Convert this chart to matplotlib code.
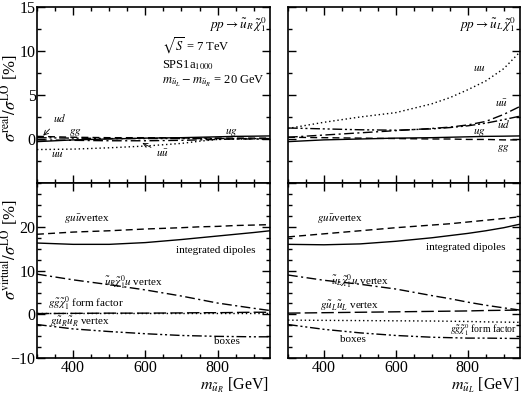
import numpy as np
import matplotlib
matplotlib.use('Agg')
import matplotlib.pyplot as plt
from matplotlib.ticker import MultipleLocator

plt.rcParams['font.family'] = ['Liberation Serif', 'DejaVu Serif']
plt.rcParams['mathtext.fontset'] = 'stix'

# masses [GeV]
m = [300, 400, 500, 600, 700, 750, 800, 850, 900, 945]

# real corrections, u_R (left)
uR_uu = [-1.2, -1.15, -1.0, -0.8, -0.5, -0.25, -0.05, 0.0, 0.0, 0.0]
uR_gg = [0.3, 0.2, 0.15, 0.15, 0.12, 0.12, 0.1, 0.1, 0.1, 0.1]
uR_ug = [-0.3, -0.1, 0.0, 0.1, 0.15, 0.2, 0.25, 0.3, 0.32, 0.35]
uR_ud = [0.15, 0.1, 0.05, 0.05, 0.05, 0.05, 0.05, 0.05, 0.05, 0.05]
uR_uub = [-0.1, -0.15, -0.2, -0.2, -0.15, -0.1, -0.05, 0.0, 0.0, 0.0]

# real corrections, u_L (right)
uL_uu = [1.2, 1.9, 2.5, 3.0, 4.0, 4.7, 5.6, 6.6, 8.0, 9.9]
uL_uub = [0.2, 0.45, 0.7, 0.95, 1.2, 1.35, 1.6, 2.0, 2.8, 3.7]
uL_ud = [1.25, 1.15, 1.05, 1.0, 1.15, 1.3, 1.5, 1.8, 2.2, 2.6]
uL_ug = [-0.3, -0.1, 0.0, 0.1, 0.15, 0.2, 0.25, 0.3, 0.32, 0.35]
uL_gg = [0.2, 0.15, 0.1, 0.05, 0.0, 0.0, -0.05, -0.05, -0.1, -0.1]

# virtual corrections, u_R (left)
vR_guu = [18.3, 18.8, 19.1, 19.5, 19.8, 20.0, 20.1, 20.3, 20.4, 20.5]
vR_dip = [16.3, 16.0, 16.0, 16.4, 17.1, 17.5, 17.9, 18.3, 18.7, 19.1]
vR_sqchi = [9.2, 7.9, 6.8, 5.6, 4.2, 3.4, 2.6, 2.0, 1.4, 0.9]
vR_ff = [0.4, 0.4, 0.4, 0.4, 0.4, 0.4, 0.4, 0.4, 0.4, 0.4]
vR_gsq = [0.2, 0.25, 0.3, 0.3, 0.35, 0.4, 0.4, 0.45, 0.5, 0.5]
vR_box = [-2.3, -3.3, -3.9, -4.4, -4.8, -4.9, -5.0, -5.05, -5.1, -5.1]

# virtual corrections, u_L (right)
vL_guu = [17.7, 18.4, 19.1, 19.8, 20.4, 20.7, 21.1, 21.5, 21.9, 22.3]
vL_dip = [16.0, 15.9, 16.1, 16.7, 17.5, 18.0, 18.5, 19.1, 19.8, 20.6]
vL_sqchi = [9.0, 7.8, 6.9, 5.8, 4.3, 3.6, 2.8, 2.1, 1.5, 1.0]
vL_gsq = [0.3, 0.4, 0.5, 0.6, 0.7, 0.75, 0.8, 0.9, 0.95, 1.0]
vL_ff = [-1.3, -1.35, -1.4, -1.45, -1.5, -1.55, -1.6, -1.7, -1.75, -1.8]
vL_box = [-2.3, -3.4, -4.2, -4.8, -5.2, -5.3, -5.4, -5.4, -5.45, -5.5]

ls_dash = (0, (5, 3))
ls_dot = (0, (1, 2))
ls_dd = (0, (7, 2.5, 1.5, 2.5))
ls_ddd = (0, (7, 2, 1.5, 2, 1.5, 2))
ls_long = (0, (9, 3))
lw = 1.0

fig = plt.figure(figsize=(5.23, 3.95), dpi=100)
ax_tl = fig.add_axes([0.0707, 0.5367, 0.4455, 0.4456])
ax_tr = fig.add_axes([0.5507, 0.5367, 0.4436, 0.4456])
ax_bl = fig.add_axes([0.0707, 0.093, 0.4455, 0.4437])
ax_br = fig.add_axes([0.5507, 0.093, 0.4436, 0.4437])

for ax in [ax_tl, ax_tr, ax_bl, ax_br]:
    ax.set_xlim(300, 945)
    ax.xaxis.set_major_locator(MultipleLocator(200))
    ax.xaxis.set_minor_locator(MultipleLocator(50))
    ax.tick_params(which='both', direction='in', top=True, right=True, labelsize=11.5)
    ax.tick_params(which='major', length=6, width=1, pad=1)
    ax.tick_params(which='minor', length=3, width=1)
    for s in ax.spines.values():
        s.set_linewidth(1.2)

for ax in [ax_tl, ax_tr]:
    ax.set_ylim(-5, 15)
    ax.yaxis.set_major_locator(MultipleLocator(5))
    ax.yaxis.set_minor_locator(MultipleLocator(2.5))
    ax.set_xticklabels([])
for ax in [ax_bl, ax_br]:
    ax.set_ylim(-10, 30)
    ax.yaxis.set_major_locator(MultipleLocator(10))
    ax.yaxis.set_minor_locator(MultipleLocator(2.5))
ax_tl.set_yticks([0, 5, 10, 15])
ax_bl.set_yticks([-10, 0, 10, 20])
ax_tr.set_yticklabels([])
ax_br.set_yticklabels([])

# top left
ax_tl.plot(m, uR_ug, color='black', lw=lw)
ax_tl.plot(m, uR_gg, color='black', lw=lw, ls=ls_dash)
ax_tl.plot(m, uR_ud, color='black', lw=lw, ls=ls_ddd)
ax_tl.plot(m, uR_uub, color='black', lw=lw, ls=ls_dd)
ax_tl.plot(m, uR_uu, color='black', lw=lw, ls=ls_dot)
ax_tl.text(935, 12.6, r'$pp\rightarrow\tilde{u}_R\,\tilde{\chi}_1^0$', ha='right', fontsize=9.5)
ax_tl.text(645, 10.0, r'$\sqrt{S}$ = 7 TeV', fontsize=9)
ax_tl.text(645, 8.0, r'SPS1a$_{1000}$', fontsize=9)
ax_tl.text(645, 6.2, r'$m_{\tilde{u}_L} - m_{\tilde{u}_R}$ = 20 GeV', fontsize=9)
ax_tl.annotate(r'$ud$', xy=(312, 0.15), xytext=(345, 1.9), fontsize=8,
               arrowprops=dict(arrowstyle='->', lw=0.6))
ax_tl.text(390, 0.6, r'$gg$', fontsize=8)
ax_tl.text(820, 0.6, r'$ug$', fontsize=8)
ax_tl.text(340, -2.0, r'$uu$', fontsize=8)
ax_tl.annotate(r'$u\bar{u}$', xy=(585, -0.3), xytext=(630, -2.1), fontsize=8,
               arrowprops=dict(arrowstyle='->', lw=0.6))

# top right
ax_tr.plot(m, uL_ug, color='black', lw=lw)
ax_tr.plot(m, uL_gg, color='black', lw=lw, ls=ls_dash)
ax_tr.plot(m, uL_ud, color='black', lw=lw, ls=ls_ddd)
ax_tr.plot(m, uL_uub, color='black', lw=lw, ls=ls_dd)
ax_tr.plot(m, uL_uu, color='black', lw=lw, ls=ls_dot)
ax_tr.text(935, 12.6, r'$pp\rightarrow\tilde{u}_L\,\tilde{\chi}_1^0$', ha='right', fontsize=9.5)
ax_tr.text(815, 7.7, r'$uu$', fontsize=8)
ax_tr.text(875, 3.6, r'$u\bar{u}$', fontsize=8)
ax_tr.text(880, 1.3, r'$ud$', fontsize=8)
ax_tr.text(815, 0.6, r'$ug$', fontsize=8)
ax_tr.text(880, -1.3, r'$gg$', fontsize=8)

# bottom left
ax_bl.plot(m, vR_guu, color='black', lw=lw, ls=ls_dash)
ax_bl.plot(m, vR_dip, color='black', lw=lw)
ax_bl.plot(m, vR_sqchi, color='black', lw=lw, ls=ls_dd)
ax_bl.plot(m, vR_ff, color='black', lw=lw, ls=ls_dot)
ax_bl.plot(m, vR_gsq, color='black', lw=lw, ls=ls_long)
ax_bl.plot(m, vR_box, color='black', lw=lw, ls=ls_ddd)
ax_bl.text(375, 21.2, r'$gu\bar{u}$vertex', fontsize=8)
ax_bl.text(685, 14.0, 'integrated dipoles', fontsize=8)
ax_bl.text(485, 6.4, r'$\tilde{u}_R\tilde{\chi}_1^0u$ vertex', fontsize=8)
ax_bl.text(330, 1.7, r'$g\tilde{g}\tilde{\chi}_1^0$ form factor', fontsize=8)
ax_bl.text(335, -2.3, r'$g\tilde{u}_R\tilde{u}_R$ vertex', fontsize=8)
ax_bl.text(790, -6.8, 'boxes', fontsize=8)

# bottom right
ax_br.plot(m, vL_guu, color='black', lw=lw, ls=ls_dash)
ax_br.plot(m, vL_dip, color='black', lw=lw)
ax_br.plot(m, vL_sqchi, color='black', lw=lw, ls=ls_dd)
ax_br.plot(m, vL_gsq, color='black', lw=lw, ls=ls_long)
ax_br.plot(m, vL_ff, color='black', lw=lw, ls=ls_dot)
ax_br.plot(m, vL_box, color='black', lw=lw, ls=ls_ddd)
ax_br.text(380, 21.2, r'$gu\bar{u}$vertex', fontsize=8)
ax_br.text(685, 14.6, 'integrated dipoles', fontsize=8)
ax_br.text(420, 6.8, r'$\tilde{u}_L\tilde{\chi}_1^0u$ vertex', fontsize=8)
ax_br.text(390, 1.2, r'$g\tilde{u}_L\tilde{u}_L$ vertex', fontsize=8)
ax_br.text(750, -4.3, r'$g\tilde{g}\tilde{\chi}_1^0$ form factor', fontsize=7)
ax_br.text(445, -6.4, 'boxes', fontsize=8)

# axis titles
fig.text(0.018, 0.752, r'$\sigma^{\mathrm{real}}/\sigma^{\mathrm{LO}}$ [%]',
         rotation=90, ha='center', va='center', fontsize=12)
fig.text(0.018, 0.367, r'$\sigma^{\mathrm{virtual}}/\sigma^{\mathrm{LO}}$ [%]',
         rotation=90, ha='center', va='center', fontsize=12)
fig.text(0.515, 0.0, r'$m_{\tilde{u}_R}$ [GeV]', ha='right', va='bottom', fontsize=11.5)
fig.text(0.994, 0.0, r'$m_{\tilde{u}_L}$ [GeV]', ha='right', va='bottom', fontsize=11.5)

fig.savefig('out.png', dpi=100)
